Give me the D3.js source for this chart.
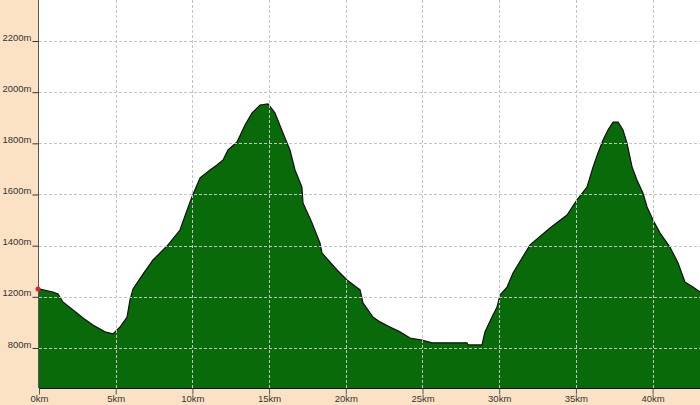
<!DOCTYPE html>
<html>
<head>
<meta charset="utf-8">
<script src="https://cdn.jsdelivr.net/npm/d3@7"></script>
<style>
  html, body { margin: 0; padding: 0; background: #fce2c4; }
  svg { display: block; }
  text { font-family: "Liberation Sans Narrow", "Liberation Sans", Arial, sans-serif; fill: #333; }
</style>
</head>
<body>
<svg id="chart" width="700" height="405"></svg>
<script>
// distance along route (km)
const distanceKm = [0, 0.91, 1.24, 1.56, 2.22, 2.87, 3.52, 4.30, 4.82, 5.28, 5.74, 5.93, 6.13, 6.78, 7.43, 8.41,
  9.19, 9.65, 9.97, 10.30, 10.50, 11.15, 11.60, 12.00, 12.32, 12.91, 13.43, 13.89, 14.41, 14.93, 15.38, 15.91,
  16.36, 16.69, 17.14, 17.21, 17.80, 18.32, 18.45, 19.43, 20.08, 20.93, 21.12, 21.77, 22.23, 22.88, 23.53,
  24.19, 24.97, 25.62, 27.90, 27.97, 28.88, 29.07, 29.53, 29.86, 30.05, 30.51, 30.90, 32.01, 33.31, 34.42,
  35.07, 35.72, 36.12, 36.44, 36.77, 37.09, 37.42, 37.75, 38.07, 38.33, 38.66, 38.98, 39.37, 39.64, 40.03,
  40.48, 41.13, 41.66, 42.11, 42.63, 43.09];
// elevation (m)
const elevationM = [1231, 1219, 1211, 1180, 1149, 1117, 1090, 1063, 1055, 1082, 1121, 1188, 1231, 1289, 1344, 1403,
  1461, 1539, 1590, 1637, 1665, 1696, 1715, 1735, 1774, 1805, 1872, 1919, 1950, 1954, 1919, 1840,
  1774, 1696, 1629, 1567, 1489, 1410, 1371, 1305, 1266, 1227, 1176, 1121, 1102, 1082, 1063,
  1039, 1031, 1020, 1020, 1012, 1012, 1063, 1121, 1160, 1207, 1238, 1293, 1403, 1469, 1520,
  1579, 1629, 1708, 1762, 1813, 1852, 1883, 1883, 1852, 1801, 1708, 1657, 1606, 1551, 1500,
  1450, 1395, 1332, 1258, 1238, 1219];

const xTickValues = [0, 5, 10, 15, 20, 25, 30, 35, 40];
const xTickLabels = ["0km", "5km", "10km", "15km", "20km", "25km", "30km", "35km", "40km"];
const yTickValues = [1000, 1200, 1400, 1600, 1800, 2000, 2200];
const yTickLabels = ["800m", "1200m", "1400m", "1600m", "1800m", "2000m", "2200m"];

(function () {
const data = distanceKm.map((d, i) => ({ km: d, m: elevationM[i] }));

const svg = d3.select("#chart");
const pL = 39, pR = 700, pT = 0, pB = 388;

const x = d3.scaleLinear().domain([0, 43.09]).range([pL, pR]);
const y = d3.scaleLinear().domain([843.6, 2360.3]).range([pB, pT]);

// plot background
svg.append("rect").attr("x", pL).attr("y", pT).attr("width", pR - pL).attr("height", pB - pT)
  .attr("fill", "#ffffff");

// area
const area = d3.area().x(d => x(d.km)).y0(pB).y1(d => y(d.m));
svg.append("path").datum(data).attr("d", area).attr("fill", "#086a08");
const line = d3.line().x(d => x(d.km)).y(d => y(d.m));
svg.append("path").datum(data).attr("d", line).attr("fill", "none").attr("stroke", "#111").attr("stroke-width", 1.2);

// grid
const grid = svg.append("g").attr("stroke", "#c4c4c4").attr("stroke-dasharray", "3,2").attr("stroke-width", 1);
grid.selectAll("line.h").data(yTickValues).enter().append("line")
  .attr("x1", pL).attr("x2", pR)
  .attr("y1", d => Math.round(y(d)) + 0.5).attr("y2", d => Math.round(y(d)) + 0.5);
grid.selectAll("line.v").data(xTickValues.slice(1)).enter().append("line")
  .attr("x1", d => Math.round(x(d)) + 0.5).attr("x2", d => Math.round(x(d)) + 0.5)
  .attr("y1", pT).attr("y2", pB);

// axes
const yAxis = d3.axisLeft(y).tickValues(yTickValues).tickSize(6).tickPadding(2)
  .tickFormat((d, i) => yTickLabels[i]);
const gy = svg.append("g").attr("transform", `translate(${pL - 0.5},0)`).call(yAxis);
gy.select(".domain").attr("stroke", "#555").attr("d", `M0,${pT}V${pB}`);
gy.selectAll(".tick line").attr("stroke", "#333");
gy.selectAll(".tick text").attr("font-size", 9.5).attr("dy", "-0.1em").attr("x", -7)
  .attr("font-family", "\"Liberation Sans Narrow\", \"Liberation Sans\", sans-serif").attr("fill", "#333");

const xAxis = d3.axisBottom(x).tickValues(xTickValues).tickSize(6).tickPadding(1)
  .tickFormat((d, i) => xTickLabels[i]);
const gx = svg.append("g").attr("transform", `translate(0,${pB + 0.5})`).call(xAxis);
gx.select(".domain").attr("stroke", "#111").attr("d", `M${pL},0H${pR}`);
gx.selectAll(".tick line").attr("stroke", "#555");
gx.selectAll(".tick text").attr("font-size", 9.5)
  .attr("font-family", "\"Liberation Sans Narrow\", \"Liberation Sans\", sans-serif").attr("fill", "#333");

// start marker
svg.append("circle").attr("cx", x(distanceKm[0]) - 1).attr("cy", y(elevationM[0])).attr("r", 2.5).attr("fill", "#e8202a");
})();
</script>
</body>
</html>
